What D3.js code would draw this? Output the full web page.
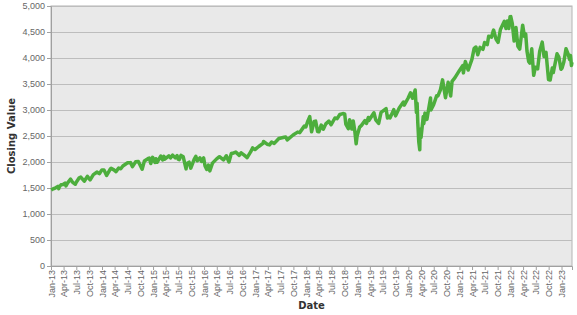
<!DOCTYPE html>
<html>
<head>
<meta charset="utf-8">
<script src="https://cdn.jsdelivr.net/npm/d3@7"></script>
<style>
  body { margin: 0; background: #fff; }
  svg { display: block; font-family: "DejaVu Sans", Verdana, sans-serif; }
</style>
</head>
<body>
<div id="chart"></div>
<script>
// closing values (dates as yyyy-mm-dd)
const dates = [
  "2013-01-02","2013-01-18","2013-01-31","2013-02-19","2013-02-25","2013-02-28","2013-03-14","2013-03-28",
  "2013-04-11","2013-04-18","2013-04-30","2013-05-21","2013-06-05","2013-06-24","2013-07-02","2013-07-22",
  "2013-08-02","2013-08-27","2013-09-18","2013-10-08","2013-10-31","2013-11-27","2013-12-13","2013-12-31",
  "2014-01-15","2014-02-03","2014-02-28","2014-03-07","2014-03-27","2014-04-11","2014-04-30","2014-05-15",
  "2014-05-30","2014-06-20","2014-07-03","2014-07-24","2014-08-07","2014-08-29","2014-09-18","2014-10-15",
  "2014-10-31","2014-11-28","2014-12-05","2014-12-16","2014-12-29",
  "2015-01-15","2015-01-22","2015-01-30","2015-02-25","2015-03-11","2015-03-20","2015-03-26","2015-04-24",
  "2015-05-06","2015-05-21","2015-06-09","2015-06-22","2015-06-29","2015-07-08","2015-07-20","2015-08-05",
  "2015-08-25","2015-08-31","2015-09-16","2015-09-28","2015-10-22","2015-11-03","2015-11-13","2015-12-02",
  "2015-12-14","2015-12-29",
  "2016-01-08","2016-01-20","2016-02-01","2016-02-11","2016-03-01","2016-03-31","2016-04-20","2016-05-19",
  "2016-06-08","2016-06-27","2016-07-14","2016-07-31","2016-08-15","2016-09-09","2016-09-22","2016-10-14",
  "2016-11-04","2016-11-30","2016-12-13","2016-12-30",
  "2017-01-26","2017-02-28","2017-03-01","2017-03-27","2017-04-13","2017-04-28","2017-05-17","2017-06-19",
  "2017-07-27","2017-08-07","2017-08-18","2017-09-29","2017-10-31","2017-11-15","2017-12-18","2017-12-29",
  "2018-01-12","2018-01-26","2018-02-08","2018-02-26","2018-03-09","2018-03-23","2018-04-02","2018-04-18",
  "2018-05-03","2018-05-21","2018-06-12","2018-06-28","2018-07-25","2018-08-10","2018-08-29","2018-09-20",
  "2018-10-03","2018-10-11","2018-10-29","2018-11-07","2018-11-23","2018-12-03","2018-12-14","2018-12-24",
  "2018-12-31",
  "2019-01-18","2019-01-31","2019-02-25","2019-03-08","2019-03-21","2019-03-25","2019-04-30","2019-05-13",
  "2019-06-03","2019-06-20","2019-07-26","2019-08-05","2019-08-12","2019-08-23","2019-09-19","2019-10-02",
  "2019-10-28","2019-11-27","2019-12-03","2019-12-31",
  "2020-01-17","2020-01-31","2020-02-19","2020-02-28","2020-03-04","2020-03-09","2020-03-16","2020-03-23",
  "2020-03-26","2020-04-01","2020-04-17","2020-04-21","2020-04-29","2020-05-13","2020-06-08","2020-06-11",
  "2020-06-30","2020-07-22","2020-07-31","2020-08-18","2020-09-02","2020-09-23","2020-10-12","2020-10-30",
  "2020-11-09","2020-11-30","2020-12-31",
  "2021-01-25","2021-01-29","2021-02-12","2021-03-04","2021-03-31","2021-04-16","2021-04-29","2021-05-12",
  "2021-05-28","2021-06-18","2021-06-30","2021-07-19","2021-07-29","2021-08-18","2021-08-31","2021-09-02",
  "2021-09-20","2021-10-04","2021-10-21","2021-11-18","2021-11-30","2021-12-10","2021-12-20","2021-12-29",
  "2022-01-03","2022-01-14","2022-01-27","2022-02-09","2022-02-23","2022-03-08","2022-03-29","2022-04-11",
  "2022-04-20","2022-04-29","2022-05-11","2022-05-20","2022-06-02","2022-06-16","2022-06-28","2022-07-14",
  "2022-07-29","2022-08-16","2022-08-29","2022-09-12","2022-09-30","2022-10-12","2022-10-27","2022-11-03",
  "2022-11-30","2022-12-13","2022-12-28",
  "2023-01-05","2023-01-18","2023-02-02","2023-02-17","2023-02-28","2023-03-06","2023-03-13","2023-03-17"
];
const closes = [
  1462,1486,1498,1530,1488,1515,1563,1569,
  1593,1541,1598,1669,1608,1573,1615,1696,
  1709,1630,1725,1655,1757,1807,1775,1848,
  1848,1741,1859,1878,1849,1815,1884,1870,
  1924,1962,1985,1988,1910,2003,2011,1862,
  2018,2068,2075,1972,2090,
  1992,2063,1995,2115,2040,2108,2056,2117,
  2080,2131,2080,2122,2057,2046,2128,2100,
  1867,1972,1996,1881,2052,2109,2023,2080,
  2012,2078,
  1922,1859,1940,1829,1978,2060,2102,2040,
  2119,2001,2163,2174,2190,2128,2177,2133,
  2085,2199,2271,2239,
  2298,2364,2396,2342,2329,2384,2357,2453,
  2475,2480,2425,2519,2575,2565,2690,2674,
  2786,2873,2581,2780,2786,2588,2582,2709,
  2629,2733,2787,2716,2846,2833,2914,2931,
  2925,2729,2641,2814,2633,2790,2600,2351,
  2507,
  2671,2704,2796,2743,2855,2798,2946,2812,
  2744,2954,3026,2845,2883,2847,3006,2887,
  3039,3154,3093,3231,
  3330,3226,3386,2954,3130,2747,2386,2237,
  2630,2470,2875,2737,2940,2820,3232,3002,
  3100,3276,3271,3390,3580,3237,3534,3270,
  3550,3622,3756,
  3855,3714,3934,3768,3973,4185,4211,4063,
  4204,4166,4298,4258,4419,4400,4523,4537,
  4358,4300,4549,4705,4567,4712,4568,4793,
  4797,4662,4326,4587,4225,4171,4632,4413,
  4459,4132,3935,3901,4176,3667,3822,3790,
  4130,4305,4030,4110,3586,3577,3807,3720,
  4080,4019,3783,
  3808,3929,4179,4079,3970,4048,3855,3917
];
const yTicks = [0, 500, 1000, 1500, 2000, 2500, 3000, 3500, 4000, 4500, 5000];

const width = 577, height = 315;
const margin = {top: 6, right: 5, bottom: 49, left: 51};
const w = width - margin.left - margin.right;
const h = height - margin.top - margin.bottom;

const parse = d3.timeParse("%Y-%m-%d");
const data = dates.map((d, i) => ({date: parse(d), value: closes[i]}));

const svg = d3.select("#chart")
  .append("svg")
  .attr("width", width)
  .attr("height", height);

const g = svg.append("g")
  .attr("transform", `translate(${margin.left},${margin.top})`);

// axis starts on the first of the month so the Jan-13 tick shows
const x = d3.scaleTime()
  .domain([d3.timeMonth.floor(data[0].date), data[data.length - 1].date])
  .range([0, w]);

const y = d3.scaleLinear()
  .domain([0, 5000])
  .range([h, 0]);

g.append("rect")
  .attr("width", w)
  .attr("height", h)
  .attr("fill", "#e9e9e9")
  .attr("stroke", "#b4b4b4");

// grid
g.append("g")
  .selectAll("line")
  .data(yTicks)
  .enter().append("line")
  .attr("x1", 0)
  .attr("x2", w)
  .attr("y1", d => y(d) + 0.5)
  .attr("y2", d => y(d) + 0.5)
  .attr("stroke", "#bdbdbd");

const yAxis = g.append("g")
  .call(d3.axisLeft(y).tickValues(yTicks).tickSize(4).tickPadding(2).tickFormat(d3.format(",")));

const xAxis = g.append("g")
  .attr("transform", `translate(0,${h})`)
  .call(d3.axisBottom(x)
    .ticks(d3.timeMonth.every(3))
    .tickSize(4)
    .tickFormat(d3.timeFormat("%b-%y")));

xAxis.selectAll("text")
  .attr("transform", "rotate(-90)")
  .attr("text-anchor", "end")
  .attr("x", -4)
  .attr("y", 0)
  .attr("dy", "0.35em");

[yAxis, xAxis].forEach(a => {
  a.select(".domain").attr("stroke", "#a0a0a0");
  a.selectAll(".tick line").attr("stroke", "#a0a0a0");
  a.selectAll("text").attr("fill", "#666").style("font-size", "9px");
});

const line = d3.line()
  .x(d => x(d.date))
  .y(d => y(d.value));

g.append("path")
  .datum(data)
  .attr("fill", "none")
  .attr("stroke", "#4dae3d")
  .attr("stroke-width", 3.5)
  .attr("stroke-linejoin", "round")
  .attr("d", line);

svg.append("text")
  .attr("transform", `translate(15,${margin.top + h / 2}) rotate(-90)`)
  .attr("text-anchor", "middle")
  .style("font-size", "10px")
  .style("font-weight", "bold")
  .attr("fill", "#333")
  .text("Closing Value");

svg.append("text")
  .attr("x", margin.left + w / 2)
  .attr("y", 309)
  .attr("text-anchor", "middle")
  .style("font-size", "10px")
  .style("font-weight", "bold")
  .attr("fill", "#333")
  .text("Date");
</script>
</body>
</html>
